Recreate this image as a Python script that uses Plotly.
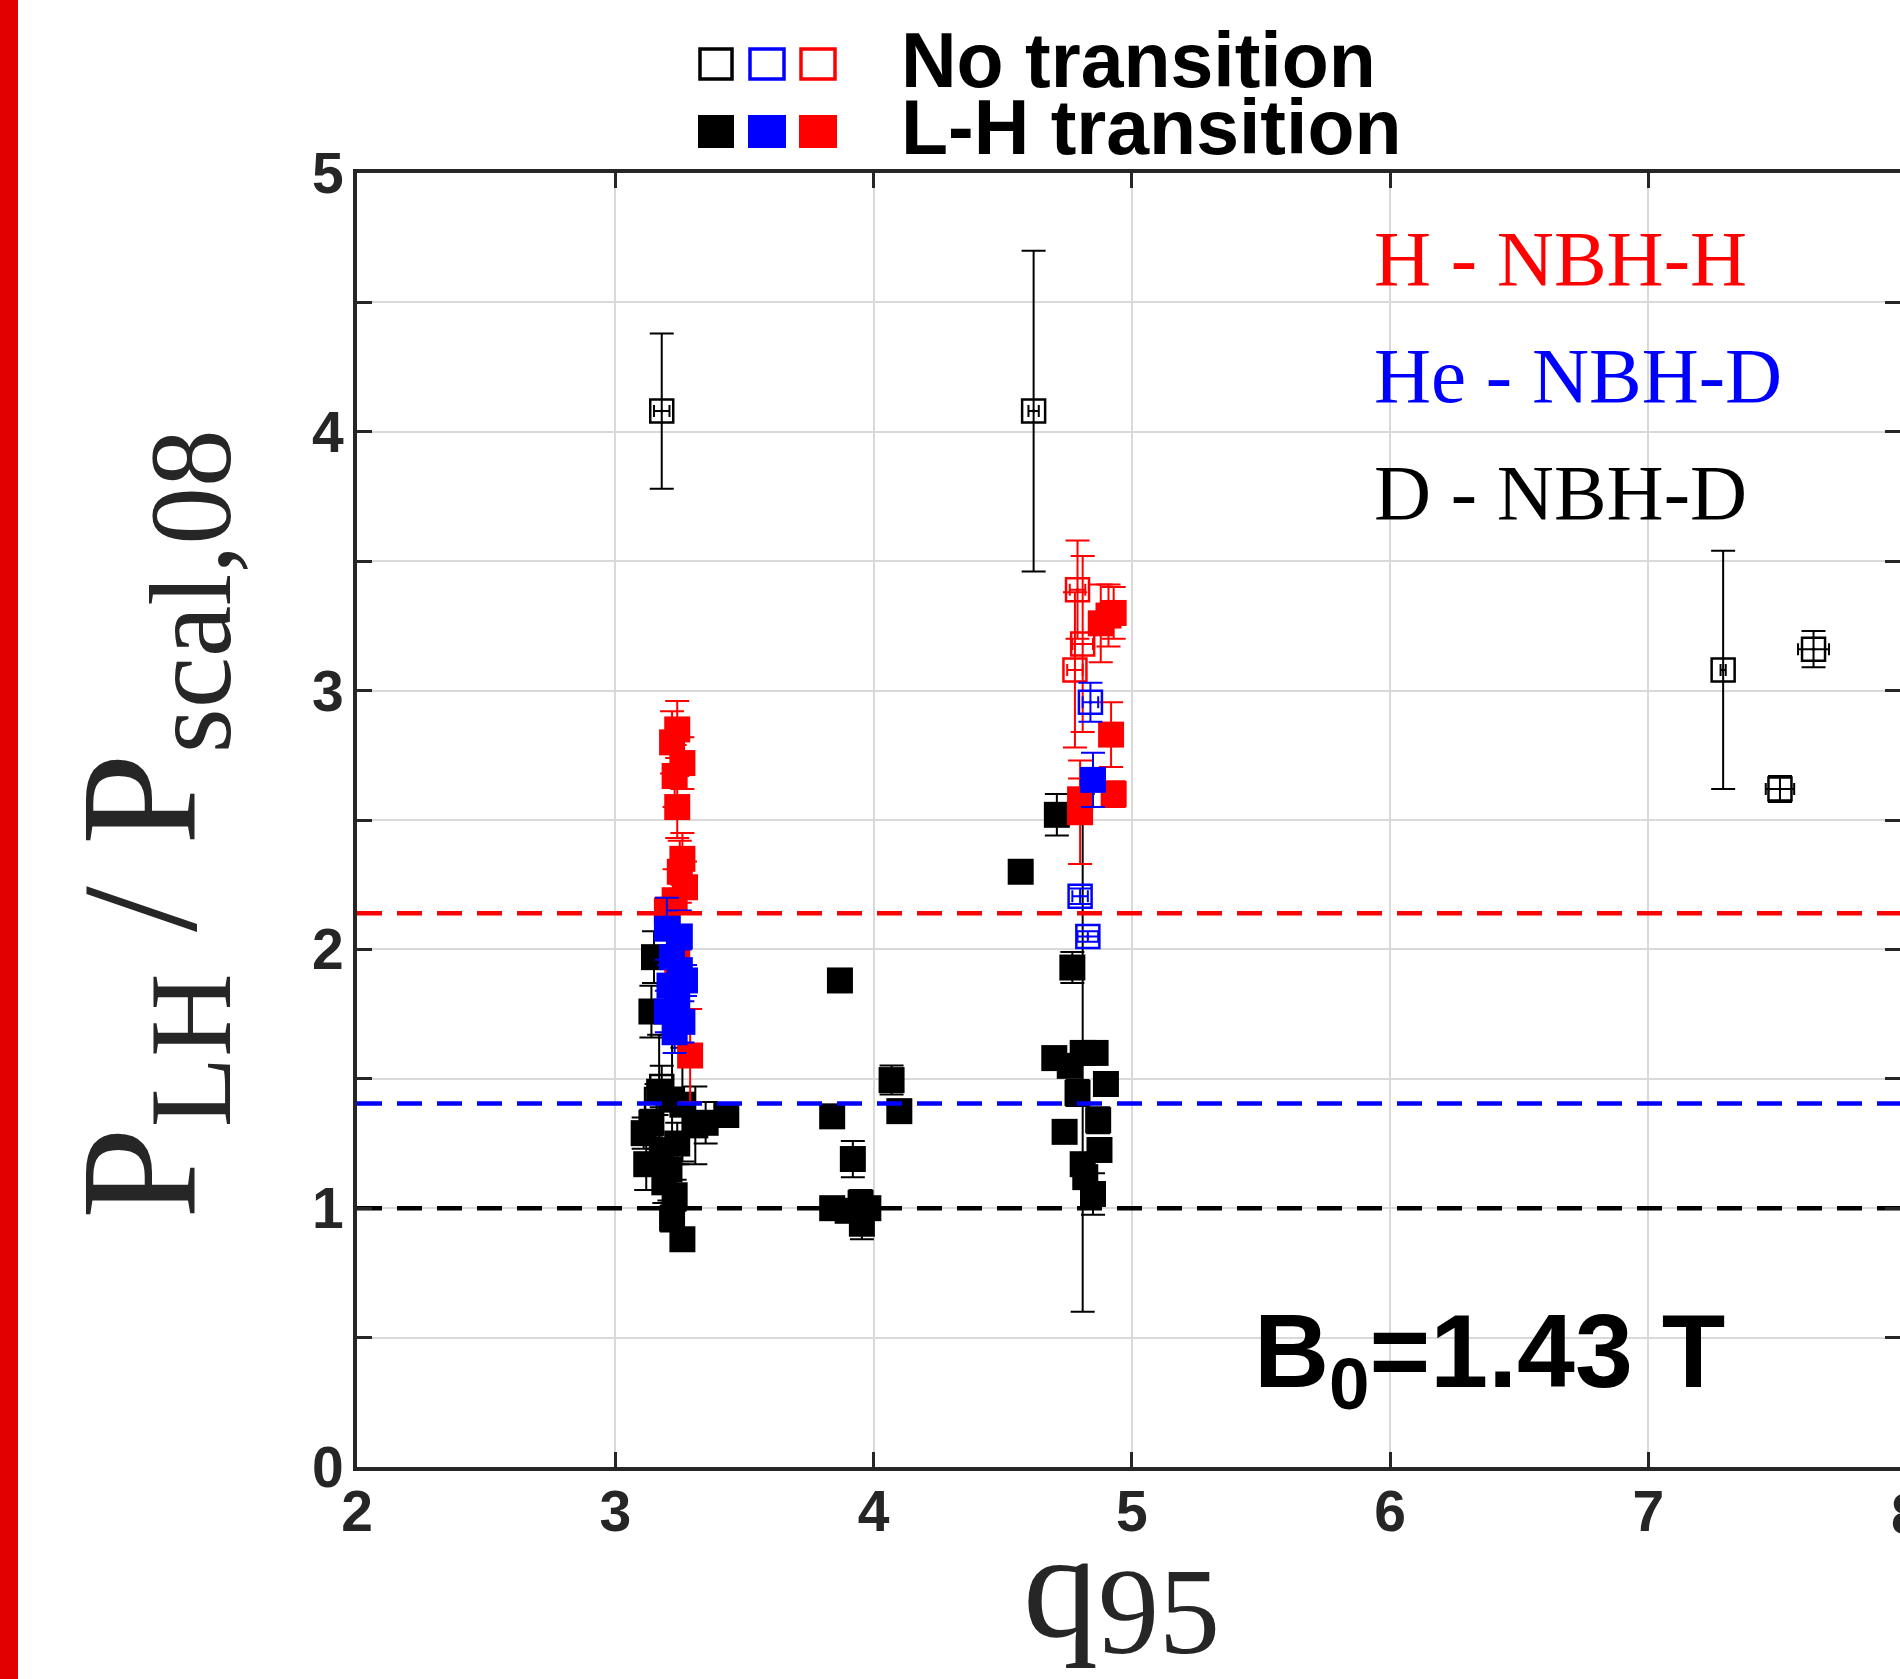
import plotly.graph_objects as go

# ---------------- data ----------------
# D - NBH-D (black)
d_lh_q = [3.15, 3.14, 3.17, 3.22, 3.26, 3.14, 3.31, 3.43, 3.35, 3.11, 3.12, 3.21, 3.19, 3.23, 3.22, 3.26, 3.18, 3.24,
          3.87, 4.07, 4.10, 3.84, 3.92, 3.84, 3.95, 3.955, 3.98, 3.90,
          4.71, 4.57, 4.77, 4.81, 4.70, 4.76, 4.86, 4.90, 4.79, 4.74, 4.87, 4.875, 4.81, 4.82, 4.85]
d_lh_p = [1.97, 1.76, 1.45, 1.42, 1.40, 1.33, 1.32, 1.36, 1.33, 1.29, 1.17, 1.15, 1.10, 1.05, 0.96, 0.88, 1.22, 1.25,
          1.88, 1.495, 1.375, 1.355, 1.19, 1.00, 1.02, 0.94, 1.00, 0.99,
          2.52, 2.30, 1.93, 1.60, 1.58, 1.55, 1.60, 1.48, 1.445, 1.295, 1.34, 1.225, 1.17, 1.12, 1.055]
d_lh_err = [0.10, 0.10, 0.22, 0.25, 0.22, 0.05, 0.15, 0.03, 0.08, 0.06, 0.10, 0.12, 0.08, 0.06, 0.05, 0.04, 0.05, 0.08,
            0.03, 0.056, 0.03, 0.03, 0.07, 0.03, 0.05, 0.06, 0.04, 0.04,
            0.08, 0.02, 0.06, 1.00, 0.03, 0.03, 0.03, 0.04, 0.05, 0.03, 0.05, 0.03, 0.03, 0.03, 0.08]

d_nt_q = [3.18, 4.62, 7.29, 7.64, 7.51, 3.18, 3.16]
d_nt_p = [4.08, 4.08, 3.08, 3.16, 2.62, 1.47, 1.42]
d_nt_err = [0.30, 0.62, 0.46, 0.07, 0.05, 0.08, 0.06]
d_nt_xerr = [0.03, 0.02, 0.01, 0.06, 0.055, 0.03, 0.03]

# H - NBH-H (red)
h_lh_q = [3.24, 3.22, 3.26, 3.23, 3.24, 3.26, 3.25, 3.27, 3.23, 3.20, 3.24, 3.29,
          4.88, 4.91, 4.93, 4.92, 4.93, 4.80, 4.80]
h_lh_p = [2.85, 2.80, 2.72, 2.67, 2.55, 2.35, 2.30, 2.24, 2.19, 2.15, 1.96, 1.59,
          3.26, 3.29, 3.30, 2.83, 2.60, 2.58, 2.53]
h_lh_err = [0.11, 0.12, 0.10, 0.12, 0.12, 0.10, 0.12, 0.10, 0.12, 0.05, 0.05, 0.18,
            0.15, 0.12, 0.10, 0.125, 0.05, 0.08, 0.20]

h_nt_q = [4.79, 4.81, 4.78]
h_nt_p = [3.39, 3.18, 3.08]
h_nt_err = [0.19, 0.34, 0.30]
h_nt_xerr = [0.03, 0.04, 0.03]

# He - NBH-D (blue)
he_lh_q = [3.20, 3.25, 3.22, 3.25, 3.21, 3.24, 3.20, 3.26, 3.23, 3.27, 4.85]
he_lh_p = [2.08, 2.05, 1.97, 1.92, 1.86, 1.80, 1.76, 1.72, 1.68, 1.88, 2.655]
he_lh_err = [0.12, 0.10, 0.08, 0.08, 0.08, 0.10, 0.08, 0.08, 0.08, 0.06, 0.105]

he_nt_q = [4.84, 4.80, 4.83]
he_nt_p = [2.955, 2.205, 2.05]
he_nt_err = [0.075, 0.03, 0.02]
he_nt_xerr = [0.03, 0.03, 0.04]

# threshold (dashed) levels
thr_vals = [1.0, 1.405, 2.14]
thr_colors = ["#000000", "#0000ff", "#ff0000"]

x_ticks = [2, 3, 4, 5, 6, 7]
y_ticks = [0, 0.5, 1, 1.5, 2, 2.5, 3, 3.5, 4, 4.5, 5]
y_ticktext = ["0", "", "1", "", "2", "", "3", "", "4", "", "5"]

series_labels = ["H - NBH-H", "He - NBH-D", "D - NBH-D"]
series_colors = ["#ff0000", "#0000ff", "#000000"]

# ---------------- layout geometry ----------------
W, H = 1900, 1679
L, T = 357, 173
PW = W - L
PH = 1294
XUNIT = 258.25
XMAX = 2 + PW / XUNIT
AX = "#262626"


def px(xp):
    return (xp - L) / PW


def py(yp):
    return (T + PH - yp) / PH


fig = go.Figure()


def add_series(q, p, err, color, filled, xerr=None):
    marker = dict(symbol="square" if filled else "square-open-dot",
                  size=26 if filled else 23, color=color,
                  line=dict(width=0 if filled else 2.5, color=color))
    kw = {}
    if xerr is not None:
        kw["error_x"] = dict(type="data", array=xerr, visible=True, color=color,
                             thickness=2, width=6)
    fig.add_trace(go.Scatter(
        x=q, y=p, mode="markers", marker=marker,
        error_y=dict(type="data", array=err, visible=True, color=color,
                     thickness=2, width=12),
        showlegend=False, cliponaxis=True, **kw))


add_series(d_nt_q, d_nt_p, d_nt_err, "#000000", False, d_nt_xerr)
add_series(d_lh_q, d_lh_p, d_lh_err, "#000000", True)
add_series(h_nt_q, h_nt_p, h_nt_err, "#ff0000", False, h_nt_xerr)
add_series(h_lh_q, h_lh_p, h_lh_err, "#ff0000", True)
add_series(he_nt_q, he_nt_p, he_nt_err, "#0000ff", False, he_nt_xerr)
add_series(he_lh_q, he_lh_p, he_lh_err, "#0000ff", True)

for v, c in zip(thr_vals, thr_colors):
    fig.add_trace(go.Scatter(x=[2, 8], y=[v, v], mode="lines",
                             line=dict(color=c, width=4.5, dash="25px,15px"),
                             showlegend=False))

# dummy trace for right-hand tick axis
fig.add_trace(go.Scatter(x=[2], y=[0], yaxis="y2", mode="markers",
                         marker=dict(opacity=0), showlegend=False, hoverinfo="skip"))

TF = 57
tickfont = dict(family="Liberation Sans, Arial, sans-serif", size=TF, color=AX, weight="bold")

fig.update_layout(
    width=W, height=H, autosize=False,
    margin=dict(l=L, r=0, t=T, b=H - T - PH, pad=0),
    paper_bgcolor="white", plot_bgcolor="white",
    xaxis=dict(range=[2, XMAX], tickvals=x_ticks, ticktext=[str(t) for t in x_ticks],
               showgrid=True, gridcolor="#d9d9d9", gridwidth=2, zeroline=False,
               showline=True, linecolor=AX, linewidth=4, mirror="ticks",
               ticks="inside", ticklen=15, tickwidth=3, tickcolor=AX,
               tickfont=tickfont, ticklabelstandoff=-8),
    yaxis=dict(range=[0, 5], tickvals=y_ticks, ticktext=y_ticktext,
               showgrid=True, gridcolor="#d9d9d9", gridwidth=2, zeroline=False,
               showline=True, linecolor=AX, linewidth=4, mirror=False,
               ticks="inside", ticklen=15, tickwidth=3, tickcolor=AX,
               tickfont=tickfont, ticklabelstandoff=-2),
    yaxis2=dict(range=[0, 5], overlaying="y", side="right", anchor="x",
                tickvals=y_ticks, showticklabels=False, showgrid=False,
                zeroline=False, showline=False, ticks="inside", ticklen=15,
                tickwidth=3, tickcolor=AX),
)

shapes = []
# red band at the far left
shapes.append(dict(type="rect", xref="paper", yref="paper",
                   x0=px(0), x1=px(18), y0=py(H), y1=py(0),
                   fillcolor="#e20000", line=dict(width=0), layer="above"))
# header key squares
key_x = [(698, 734), (748, 786), (799, 837)]
key_c = ["#000000", "#0000ff", "#ff0000"]
for (a, b), c in zip(key_x, key_c):
    shapes.append(dict(type="rect", xref="paper", yref="paper",
                       x0=px(a + 2), x1=px(b - 2), y0=py(79), y1=py(49),
                       fillcolor="rgba(0,0,0,0)", line=dict(color=c, width=3.5)))
    shapes.append(dict(type="rect", xref="paper", yref="paper",
                       x0=px(a), x1=px(b), y0=py(148), y1=py(115),
                       fillcolor=c, line=dict(width=0)))
fig.update_layout(shapes=shapes)

ann = []
hdr_font = dict(family="Liberation Sans, Arial, sans-serif", size=77, color="#000000", weight="bold")
ann.append(dict(text="No transition", x=px(899), y=py(60), xref="paper", yref="paper",
                xanchor="left", yanchor="middle", showarrow=False, font=hdr_font))
ann.append(dict(text="L-H transition", x=px(899), y=py(127), xref="paper", yref="paper",
                xanchor="left", yanchor="middle", showarrow=False, font=hdr_font))

for lbl, c, ymid in zip(series_labels, series_colors, [258, 376, 492]):
    ann.append(dict(text=lbl, x=px(1372), y=py(ymid), xref="paper", yref="paper",
                    xanchor="left", yanchor="middle", showarrow=False,
                    font=dict(family="Liberation Serif, Times New Roman, serif", size=79, color=c)))

ann.append(dict(text="B<sub>0</sub>=1.43 T", x=px(1252), y=py(1358), xref="paper", yref="paper",
                xanchor="left", yanchor="middle", showarrow=False,
                font=dict(family="Liberation Sans, Arial, sans-serif", size=104, color="#000000",
                          weight="bold")))

# x-axis title: q with subscript 95 (two pieces)
serif = "Liberation Serif, Times New Roman, serif"
ann.append(dict(text="q", x=px(1060), y=py(1585), xref="paper", yref="paper",
                xanchor="center", yanchor="middle", showarrow=False,
                font=dict(family=serif, size=150, color="#262626")))
ann.append(dict(text="95", x=px(1096), y=py(1612), xref="paper", yref="paper",
                xanchor="left", yanchor="middle", showarrow=False,
                font=dict(family=serif, size=122, color="#262626")))

ann.append(dict(text="P<sub>LH</sub> / P<sub>scal,08</sub>", x=px(152), y=py(824),
                xref="paper", yref="paper", textangle=-90,
                xanchor="center", yanchor="middle", showarrow=False,
                font=dict(family=serif, size=165, color="#262626")))

# partially visible tick label "8" at the right edge
ann.append(dict(text="8", x=px(L + 6 * XUNIT), y=py(1480), xref="paper", yref="paper",
                xanchor="center", yanchor="top", showarrow=False, font=tickfont))

fig.update_layout(annotations=ann)

fig.write_html("out.html", config={"displayModeBar": False},
               post_script="document.body.style.margin='0';document.body.style.overflow='hidden';")
